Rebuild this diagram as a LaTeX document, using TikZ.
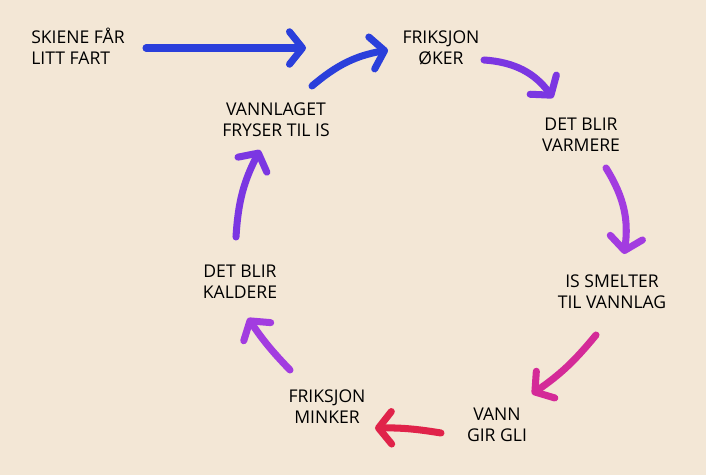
\documentclass[tikz,border=0pt]{standalone}
\usepackage{fontspec}
\setmainfont{Open Sans}
\usetikzlibrary{arrows.meta}
\definecolor{bg}{HTML}{F3E7D6}
\definecolor{cblue}{HTML}{2A3FDB}
\definecolor{cpurple}{HTML}{7B36E2}
\definecolor{cviolet}{HTML}{A23CE0}
\definecolor{cmagenta}{HTML}{D42A98}
\definecolor{cred}{HTML}{E0234A}
\tikzset{
  lbl/.style={font=\fontsize{10}{12}\selectfont, align=center, text=black},
  flow/.style={line width=4pt, line cap=round,
    -{Straight Barb[length=2.6mm,width=6.5mm,round]}},
}
\begin{document}
\begin{tikzpicture}[x=0.02cm,y=-0.02cm]
  \fill[bg] (0,0) rectangle (706,475);
  \useasboundingbox (0,0) rectangle (706,475);
  % steps of the loop
  \node[lbl, align=left] (skiene) at (78,46) {SKIENE FÅR\\LITT FART};
  \node[lbl] (okerf) at (441,48) {FRIKSJON\\ØKER};
  \node[lbl] (varmere) at (581,135) {DET BLIR\\VARMERE};
  \node[lbl] (smelter) at (612,292) {IS SMELTER\\TIL VANNLAG};
  \node[lbl] (gli) at (497,425) {VANN\\GIR GLI};
  \node[lbl] (minker) at (327,407) {FRIKSJON\\MINKER};
  \node[lbl] (kaldere) at (240,282) {DET BLIR\\KALDERE};
  \node[lbl] (fryser) at (276,120) {VANNLAGET\\FRYSER TIL IS};
  % arrow ends
  \coordinate (a1) at (146,48); \coordinate (b1) at (306,48);
  \coordinate (a2) at (312,86); \coordinate (b2) at (388,50);
  \coordinate (a3) at (484,60); \coordinate (b3) at (553,98);
  \coordinate (a4) at (606,168); \coordinate (b4) at (624,254);
  \coordinate (a5) at (596,335); \coordinate (b5) at (532,394);
  \coordinate (a6) at (441,433); \coordinate (b6) at (375,428);
  \coordinate (a7) at (290,370); \coordinate (b7) at (248,318);
  \coordinate (a8) at (236,237); \coordinate (b8) at (260,150);
  \draw[flow, cblue] (a1) -- (b1);
  \draw[flow, cblue] (a2) to[bend left=15] (b2);
  \draw[flow, cpurple] (a3) to[bend left=25] (b3);
  \draw[flow, cviolet] (a4) to[bend left=20] (b4);
  \draw[flow, cmagenta] (a5) to[bend left=8] (b5);
  \draw[flow, cred] (a6) to[bend right=5] (b6);
  \draw[flow, cviolet] (a7) to[bend left=5] (b7);
  \draw[flow, cpurple] (a8) to[bend left=12] (b8);
\end{tikzpicture}
\end{document}
